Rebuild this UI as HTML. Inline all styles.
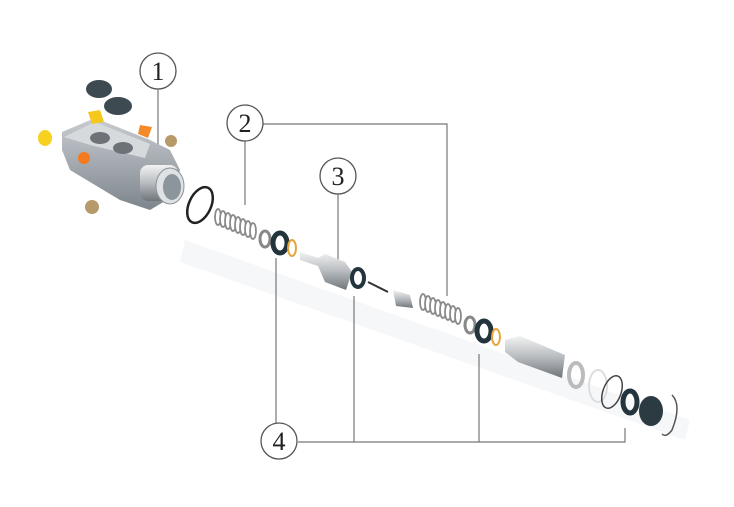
<!DOCTYPE html>
<html><head><meta charset="utf-8"><style>
html,body{margin:0;padding:0;background:#fff;}
svg{display:block}
text{font-family:"Liberation Serif",serif;font-size:26px;fill:#222;}
</style></head><body>
<svg width="734" height="507" viewBox="0 0 734 507" xmlns="http://www.w3.org/2000/svg">
<defs>
<linearGradient id="gb" x1="0" y1="0" x2="0" y2="1"><stop offset="0" stop-color="#c9cdd2"/><stop offset="1" stop-color="#7d858c"/></linearGradient>
<linearGradient id="sv" x1="0" y1="0" x2="0" y2="1"><stop offset="0" stop-color="#f2f2f2"/><stop offset="0.5" stop-color="#b8bcc0"/><stop offset="1" stop-color="#6f757a"/></linearGradient>
</defs>
<!-- faint shadow -->
<polygon points="185,240 690,420 685,440 180,262" fill="#f6f7f8"/>
<!-- connector lines -->
<g stroke="#777" stroke-width="1.2" fill="none">
<line x1="158" y1="89" x2="158" y2="155"/>
<polyline points="263,124 447,124 447,296"/>
<line x1="245" y1="141" x2="245" y2="205"/>
<line x1="338" y1="194" x2="338" y2="262"/>
<line x1="276" y1="258" x2="276" y2="423"/>
<polyline points="298,442 625,442 625,428"/>
<line x1="354" y1="296" x2="354" y2="442"/>
<line x1="479" y1="354" x2="479" y2="442"/>
</g>
<g fill="#fff" stroke="#555" stroke-width="1.3">
<circle cx="158" cy="71" r="18"/><circle cx="245" cy="123" r="18"/>
<circle cx="338" cy="176" r="18"/><circle cx="279" cy="441" r="18"/>
</g>
<text x="158" y="80" text-anchor="middle">1</text>
<text x="245" y="132" text-anchor="middle">2</text>
<text x="338" y="185" text-anchor="middle">3</text>
<text x="279" y="450" text-anchor="middle">4</text>
<!-- housing -->
<polygon points="62,132 95,118 150,140 170,150 180,170 175,195 150,210 120,200 70,170 62,150" fill="url(#gb)"/>
<polygon points="64,137 95,122 150,144 145,158 90,145" fill="#d7dadd"/>
<ellipse cx="100" cy="138" rx="10" ry="6" fill="#6c7278"/>
<ellipse cx="123" cy="148" rx="10" ry="6" fill="#6c7278"/>
<rect x="140" y="165" width="38" height="36" rx="8" fill="url(#sv)"/>
<ellipse cx="170" cy="186" rx="14" ry="18" fill="#dfe2e4" stroke="#8b9196"/>
<ellipse cx="172" cy="187" rx="9" ry="13" fill="#8b959c"/>
<circle cx="84" cy="158" r="6" fill="#f47a20"/>
<ellipse cx="45" cy="138" rx="7" ry="8" fill="#f6d11f"/>
<polygon points="88,112 100,110 104,122 92,124" fill="#f6c81c"/>
<polygon points="140,125 152,127 148,138 138,134" fill="#f58a2a"/>
<circle cx="171" cy="141" r="6" fill="#b79a6a"/>
<circle cx="92" cy="207" r="7" fill="#b79a6a"/>
<ellipse cx="99" cy="89" rx="13" ry="9" fill="#3d4a52"/>
<ellipse cx="118" cy="106" rx="14" ry="9" fill="#3d4a52"/>
<!-- o-ring -->
<ellipse cx="200" cy="205" rx="11" ry="19" fill="none" stroke="#222" stroke-width="2.5" transform="rotate(25 200 205)"/>
<!-- spring 1 -->
<g stroke="#8a8a8a" stroke-width="1.8" fill="#fff">
<ellipse cx="218" cy="217" rx="3" ry="8"/><ellipse cx="223" cy="219" rx="3" ry="8"/><ellipse cx="228" cy="221" rx="3" ry="8"/><ellipse cx="233" cy="223" rx="3" ry="8"/><ellipse cx="238" cy="225" rx="3" ry="8"/><ellipse cx="243" cy="227" rx="3" ry="8"/><ellipse cx="248" cy="229" rx="3" ry="8"/><ellipse cx="253" cy="231" rx="3" ry="8"/>
</g>
<ellipse cx="265" cy="239" rx="5" ry="8" fill="none" stroke="#888" stroke-width="3"/>
<ellipse cx="280" cy="243" rx="7" ry="10" fill="none" stroke="#23343d" stroke-width="5"/>
<ellipse cx="292" cy="248" rx="4" ry="8" fill="none" stroke="#e6a53a" stroke-width="2"/>
<!-- piston 3 -->
<polygon points="300,252 318,258 325,254 345,262 352,272 346,290 325,282 318,266 300,260" fill="url(#sv)"/>
<ellipse cx="358" cy="278" rx="6" ry="9" fill="none" stroke="#23343d" stroke-width="4"/>
<line x1="368" y1="282" x2="388" y2="292" stroke="#333" stroke-width="2"/>
<polygon points="393,290 410,295 413,308 396,306" fill="url(#sv)"/>
<!-- spring 2 -->
<g stroke="#8a8a8a" stroke-width="1.8" fill="#fff">
<ellipse cx="423" cy="302" rx="3" ry="8"/><ellipse cx="428" cy="304" rx="3" ry="8"/><ellipse cx="433" cy="306" rx="3" ry="8"/><ellipse cx="438" cy="308" rx="3" ry="8"/><ellipse cx="443" cy="310" rx="3" ry="8"/><ellipse cx="448" cy="312" rx="3" ry="8"/><ellipse cx="453" cy="314" rx="3" ry="8"/><ellipse cx="458" cy="316" rx="3" ry="8"/>
</g>
<ellipse cx="470" cy="325" rx="5" ry="8" fill="none" stroke="#888" stroke-width="3"/>
<ellipse cx="484" cy="331" rx="7" ry="10" fill="none" stroke="#23343d" stroke-width="5"/>
<ellipse cx="496" cy="337" rx="4" ry="8" fill="none" stroke="#e6a53a" stroke-width="2"/>
<!-- sleeve -->
<polygon points="505,340 520,336 565,355 562,378 518,362 505,352" fill="url(#sv)"/>
<ellipse cx="576" cy="375" rx="7" ry="12" fill="none" stroke="#bbb" stroke-width="4"/>
<ellipse cx="598" cy="386" rx="9" ry="16" fill="none" stroke="#ddd" stroke-width="2"/>
<ellipse cx="612" cy="392" rx="9" ry="17" fill="none" stroke="#444" stroke-width="1.5" transform="rotate(20 612 392)"/>
<ellipse cx="630" cy="402" rx="7" ry="11" fill="none" stroke="#23343d" stroke-width="5"/>
<ellipse cx="651" cy="411" rx="12" ry="15" fill="#2c3a42"/>
<path d="M672,395 q10,10 0,35 q-6,8 -10,4" fill="none" stroke="#555" stroke-width="1.5"/>
</svg>
</body></html>
